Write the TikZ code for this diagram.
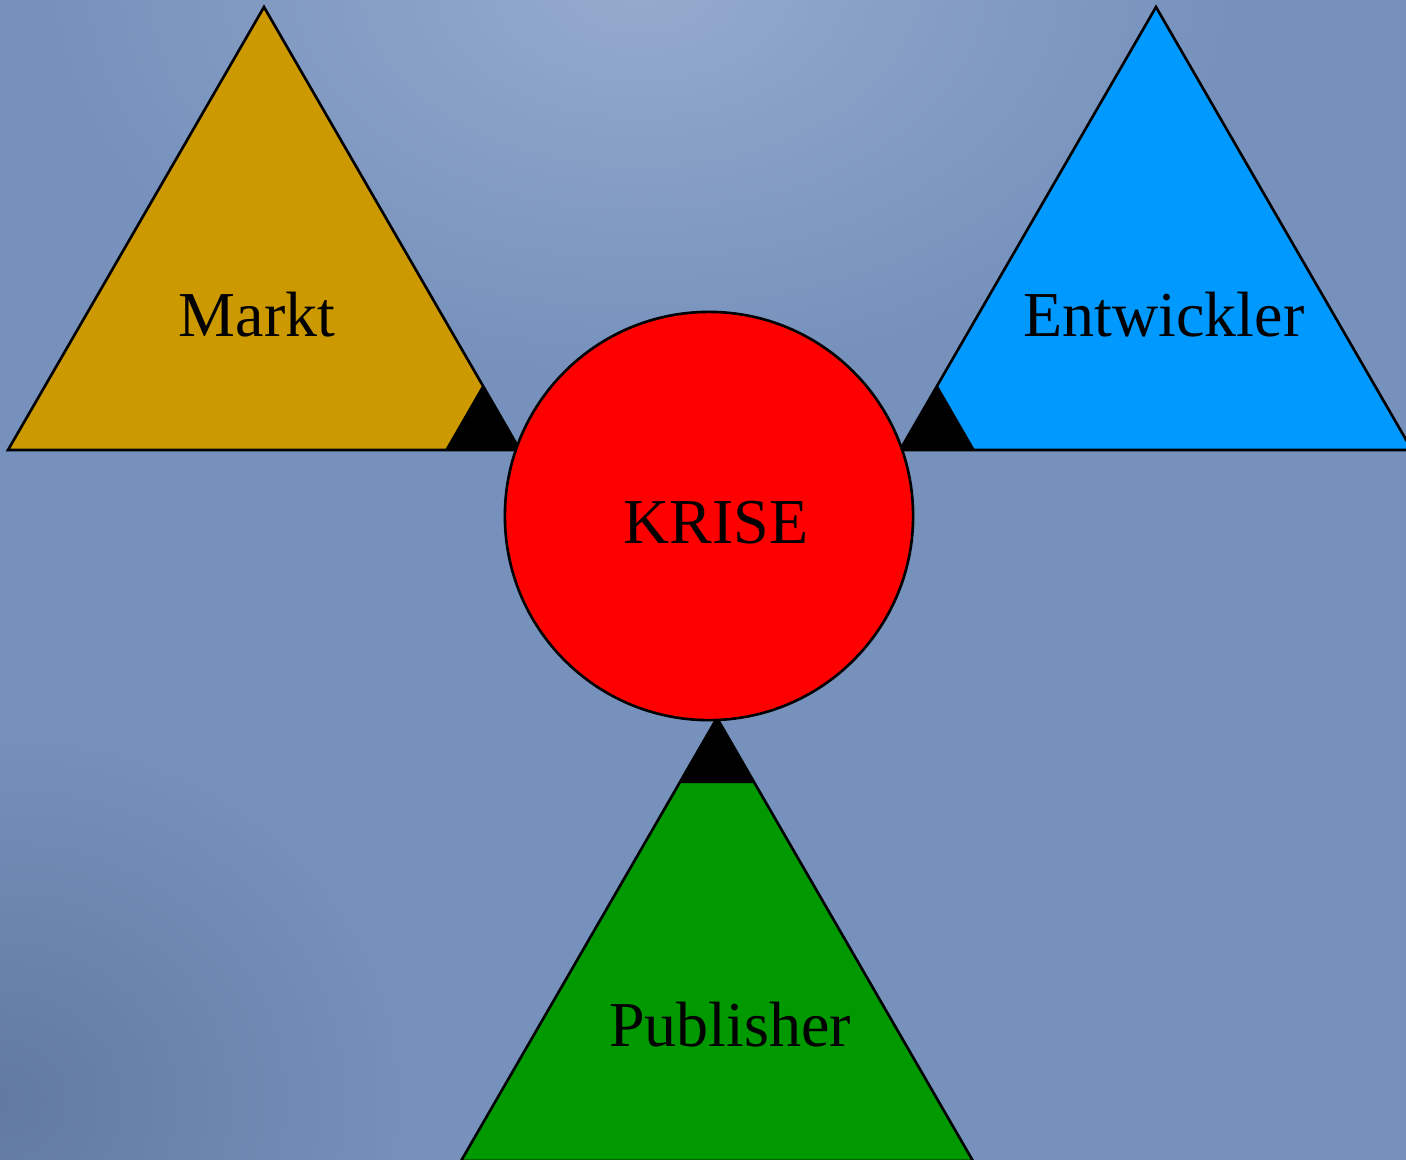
\documentclass[tikz,border=0pt]{standalone}
\usepackage{fontspec}
\setmainfont{Liberation Serif}
\usetikzlibrary{positioning}

\definecolor{bgblue}{RGB}{117,145,188}
\definecolor{bglight}{RGB}{150,170,205}
\definecolor{bgdark}{RGB}{98,122,162}
\definecolor{marktgold}{RGB}{204,153,0}
\definecolor{entwblue}{RGB}{0,153,255}
\definecolor{pubgreen}{RGB}{0,153,0}
\definecolor{krisered}{RGB}{255,0,0}

\begin{document}
\begin{tikzpicture}[x=0.01cm,y=-0.01cm,line width=0.75pt,
    tri/.style={draw=black,line join=miter},
    tipfill/.style={fill=black},
    lbl/.style={font=\fontsize{18.2}{22}\selectfont,inner sep=0pt}]
\useasboundingbox (0,0) rectangle (1406,1159);
\clip (0,0) rectangle (1406,1159);
% background
\fill[bgblue] (-5,-5) rectangle (1411,1164);
\shade[inner color=bglight,outer color=bgblue] (640,-20) ellipse (600 and 400);
\shade[inner color=bgdark,outer color=bgblue] (0,1100) ellipse (420 and 380);
% the three parties
\fill[marktgold] (8,450) -- (520,450) -- (264,7) -- cycle;
\fill[tipfill] (445,450) -- (520,450) -- (482.5,385) -- cycle;
\draw[tri] (8,450) -- (520,450) -- (264,7) -- cycle;
\fill[entwblue] (900,450) -- (1412,450) -- (1156,7) -- cycle;
\fill[tipfill] (900,450) -- (975,450) -- (937.5,385) -- cycle;
\draw[tri] (900,450) -- (1412,450) -- (1156,7) -- cycle;
\fill[pubgreen] (717,718) -- (461,1161) -- (973,1161) -- cycle;
\fill[tipfill] (717,718) -- (679.5,783) -- (754.5,783) -- cycle;
\draw[tri] (717,718) -- (461,1161) -- (973,1161) -- cycle;
% crisis in the middle
\node[circle,draw=black,fill=krisered,minimum size=4.08cm,inner sep=0pt]
  (krise) at (709,516) {};
\node[lbl] (kriselbl) at (716,523) {KRISE};
\node[lbl] (markt) at (257,315) {Markt};
\node[lbl] (entw) at (1164,315) {Entwickler};
\node[lbl] (pub) at (730,1025) {Publisher};
\end{tikzpicture}
\end{document}
